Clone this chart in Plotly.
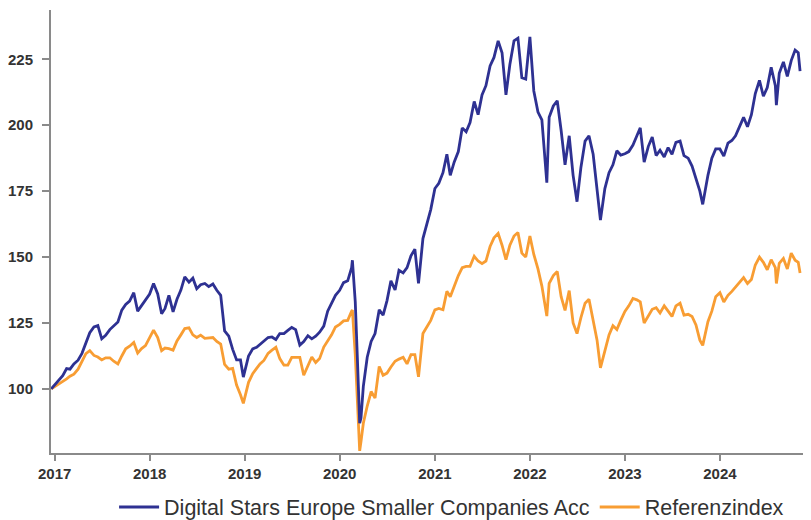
import plotly.graph_objects as go

dates = [
    "2016-12-19",
    "2017-01-01", "2017-01-16", "2017-02-01", "2017-02-16", "2017-03-01", "2017-03-16",
    "2017-04-01", "2017-04-16", "2017-05-01", "2017-05-16", "2017-06-01", "2017-06-16",
    "2017-07-01", "2017-07-16", "2017-08-01", "2017-08-16", "2017-09-01", "2017-09-16",
    "2017-10-01", "2017-10-16", "2017-11-01", "2017-11-16", "2017-12-01", "2017-12-16",
    "2018-01-01", "2018-01-16", "2018-02-01", "2018-02-16", "2018-03-01", "2018-03-16",
    "2018-04-01", "2018-04-16", "2018-05-01", "2018-05-16", "2018-06-01", "2018-06-16",
    "2018-07-01", "2018-07-16", "2018-08-01", "2018-08-16", "2018-09-01", "2018-09-16",
    "2018-10-01", "2018-10-16", "2018-11-01", "2018-11-16", "2018-12-01", "2018-12-16",
    "2018-12-27", "2019-01-16", "2019-02-01", "2019-02-16", "2019-03-01", "2019-03-16",
    "2019-04-01", "2019-04-16", "2019-05-01", "2019-05-16", "2019-06-01", "2019-06-16",
    "2019-07-01", "2019-07-16", "2019-08-01", "2019-08-16", "2019-09-01", "2019-09-16",
    "2019-10-01", "2019-10-16", "2019-11-01", "2019-11-16", "2019-12-01", "2019-12-16",
    "2020-01-01", "2020-01-16", "2020-02-01", "2020-02-16", "2020-02-19", "2020-03-01",
    "2020-03-09", "2020-03-18", "2020-03-23", "2020-04-01", "2020-04-16", "2020-05-01",
    "2020-05-16", "2020-06-01", "2020-06-16", "2020-07-01", "2020-07-16", "2020-08-01",
    "2020-08-16", "2020-09-01", "2020-09-16", "2020-10-01", "2020-10-16", "2020-10-30",
    "2020-11-16", "2020-12-01", "2020-12-16",
    "2021-01-01", "2021-01-16", "2021-02-01", "2021-02-16", "2021-03-01", "2021-03-16",
    "2021-04-01", "2021-04-16", "2021-05-01", "2021-05-16", "2021-06-01", "2021-06-16",
    "2021-07-01", "2021-07-16", "2021-08-01", "2021-08-16", "2021-09-01", "2021-09-16",
    "2021-10-01", "2021-10-16", "2021-11-01", "2021-11-16", "2021-12-01", "2021-12-16",
    "2022-01-01", "2022-01-16", "2022-02-01", "2022-02-16", "2022-03-07", "2022-03-16",
    "2022-04-01", "2022-04-16", "2022-05-01", "2022-05-16", "2022-06-01", "2022-06-16",
    "2022-07-01", "2022-07-16", "2022-08-01", "2022-08-16", "2022-09-01", "2022-09-16",
    "2022-09-29", "2022-10-16", "2022-11-01", "2022-11-16", "2022-12-01", "2022-12-16",
    "2023-01-01", "2023-01-16", "2023-02-01", "2023-02-16", "2023-03-01", "2023-03-16",
    "2023-04-01", "2023-04-16", "2023-05-01", "2023-05-16", "2023-06-01", "2023-06-16",
    "2023-07-01", "2023-07-16", "2023-08-01", "2023-08-16", "2023-09-01", "2023-09-16",
    "2023-10-01", "2023-10-16", "2023-10-27", "2023-11-16", "2023-12-01", "2023-12-16",
    "2024-01-01", "2024-01-16", "2024-02-01", "2024-02-16", "2024-03-01", "2024-03-16",
    "2024-04-01", "2024-04-16", "2024-05-01", "2024-05-16", "2024-06-01", "2024-06-16",
    "2024-07-01", "2024-07-16", "2024-08-01", "2024-08-05", "2024-08-16", "2024-09-01",
    "2024-09-16", "2024-10-01", "2024-10-16", "2024-10-28", "2024-11-04",
]

fund = [
    100,
    101.5, 103.5, 105, 107.7, 107.5, 109.5,
    110.9, 113.5, 117.2, 121.3, 123.5, 124,
    119, 120.3, 122.5, 124, 125.4, 129.9,
    132, 133.3, 136.5, 129.5, 131.5, 133.5,
    136, 140, 136, 128.5, 130.5, 135.5,
    129.2, 134, 137.5, 142.5, 140.5, 142,
    138, 139.5, 140, 138.8, 139.8, 137.4,
    135.5, 122, 120, 115, 111, 111,
    104.5, 112.5, 115.2, 115.8, 117, 118.2,
    119.5, 119.7, 118.7, 121, 121, 122.2,
    123.3, 122.5, 116.6, 118, 120.2, 119,
    120, 121.5, 123.8, 129.5, 132.5, 135.5,
    137.4, 140.3, 141, 146, 148.8, 133,
    112, 87, 89, 101, 112, 118,
    121, 130, 128, 133.5, 141, 137.5,
    145, 144, 146, 150.5, 153, 140,
    157, 162.5, 168,
    176, 178, 182, 189, 181, 186,
    190, 199, 197.5, 201, 209, 204,
    211.5, 215, 222.5, 225.7, 232, 227.5,
    211.5, 223, 232, 233, 218, 217.5,
    233.5, 213, 205, 202, 178.2, 203,
    207.3, 209.3, 198, 185, 196, 181,
    171, 184, 194, 196, 189, 176,
    164, 176, 182, 185, 190.3, 188.7,
    189.2, 190, 192.5, 196, 199, 186,
    192, 195.5, 188.5, 190.5, 188, 191.5,
    189, 193.5, 194, 188.5, 187.5, 184.5,
    180, 175, 170, 181, 187.5, 191,
    191, 188.3, 193.2, 194.2, 196, 199.5,
    203, 199.4, 204, 212, 217, 211,
    214.3, 222, 215, 207.6, 219.7, 224,
    218.5, 224.5, 228.5, 227.5, 220.5,
]

index = [
    100,
    100.8, 102.0, 102.9, 103.8, 104.8, 105.6,
    107.5, 110.5, 113.4, 114.5, 112.7, 112.1,
    111, 111.8, 111.8, 110.5, 109.5, 112.5,
    115.2, 116.2, 117.6, 113.6, 115.3, 116.4,
    119.5, 122.3, 119.5, 114.5, 115.5, 115.3,
    114.7, 118.2, 120.5, 122.9, 123.2, 120.5,
    119.5, 120.4, 119.2, 119.3, 119.5, 118,
    117, 109.3, 107.5, 107.8, 101.5, 97.8,
    94.5, 102.5, 105.8, 107.8, 109.5, 110.8,
    113.5, 114.7, 115.8, 111.5, 109, 109,
    112, 112, 112, 105.2, 109, 112.1,
    110, 111.5, 115.9, 118, 120.5, 123.5,
    124.5, 125.8, 126, 129.5, 129.9, 113,
    95, 76.5, 80, 87, 93.5, 99,
    96.5, 108.5, 105.2, 106, 108.3, 110.5,
    111.3, 112, 109.5, 113, 113, 104.6,
    121, 123.5, 126,
    130, 130.5, 130, 137, 135, 139,
    143, 146, 146.5, 146.5, 150.3, 148.5,
    147.5, 148.5, 154, 157.3, 159, 154.5,
    149, 154.5, 158, 159.3, 151.5, 150,
    158, 151, 145.5, 139, 127.6, 140,
    143, 144.5, 135, 129.8, 137.3, 125,
    121, 127, 132.5, 134, 126, 118.5,
    108, 115, 120.5, 124, 122.5, 126,
    129.4, 131.5, 134.3, 133.8, 133, 125,
    128, 130.2, 130.8, 128.8, 131.5, 129.5,
    127.5, 131.5, 132.5, 128, 128.3, 127.5,
    124.3, 118.5, 116.5, 125.5, 129.5, 135,
    136.5, 133, 135.5, 137, 138.5, 140.3,
    142.2, 140, 141.5, 147, 150, 148,
    145.2, 149, 146, 140, 147.6, 149.5,
    145.5, 151.5, 148.8, 148, 144,
]

series_names = ["Digital Stars Europe Smaller Companies Acc", "Referenzindex"]
year_ticks = ["2017-01-01", "2018-01-01", "2019-01-01", "2020-01-01",
              "2021-01-01", "2022-01-01", "2023-01-01", "2024-01-01"]
year_labels = ["2017", "2018", "2019", "2020", "2021", "2022", "2023", "2024"]
y_ticks = [100, 125, 150, 175, 200, 225]

BLUE = "#2e3192"
ORANGE = "#f89d33"
AXIS = "#8a8a8a"
TICKFONT = dict(size=15, color="#333333", family="Liberation Sans, Arial, sans-serif", weight="bold")

fig = go.Figure()
fig.add_trace(go.Scatter(x=dates, y=index, mode="lines", name=series_names[1],
                         line=dict(color=ORANGE, width=2.8), legendrank=2))
fig.add_trace(go.Scatter(x=dates, y=fund, mode="lines", name=series_names[0],
                         line=dict(color=BLUE, width=2.8), legendrank=1))

# The page places the figure 8px from the top-left corner, so the figure is
# sized to fill the rest of the 811x520 window.
fig.update_layout(
    width=803, height=512,
    margin=dict(l=43, r=0, t=2, b=67, autoexpand=False),
    paper_bgcolor="white", plot_bgcolor="white",
    font=dict(family="Liberation Sans, Arial, sans-serif", color="#333333"),
    showlegend=True,
    legend=dict(orientation="h", x=0.083, xanchor="left", y=-0.122, yanchor="middle",
                font=dict(size=21.5, color="#333333"), itemwidth=40,
                bgcolor="rgba(0,0,0,0)"),
    xaxis=dict(
        type="date", range=["2016-12-18", "2024-12-16"],
        tickvals=year_ticks, ticktext=year_labels, automargin=False,
        showline=True, linecolor=AXIS, linewidth=2,
        ticks="outside", ticklen=6, tickwidth=2, tickcolor=AXIS,
        showgrid=False, zeroline=False, tickfont=TICKFONT,
    ),
    yaxis=dict(
        range=[75.7, 243.7], tickvals=y_ticks, automargin=False,
        showline=True, linecolor=AXIS, linewidth=2,
        ticks="outside", ticklen=7, tickwidth=2, tickcolor=AXIS,
        showgrid=False, zeroline=False, ticklabelstandoff=6, tickfont=TICKFONT,
    ),
)

fig.write_html("out.html")
